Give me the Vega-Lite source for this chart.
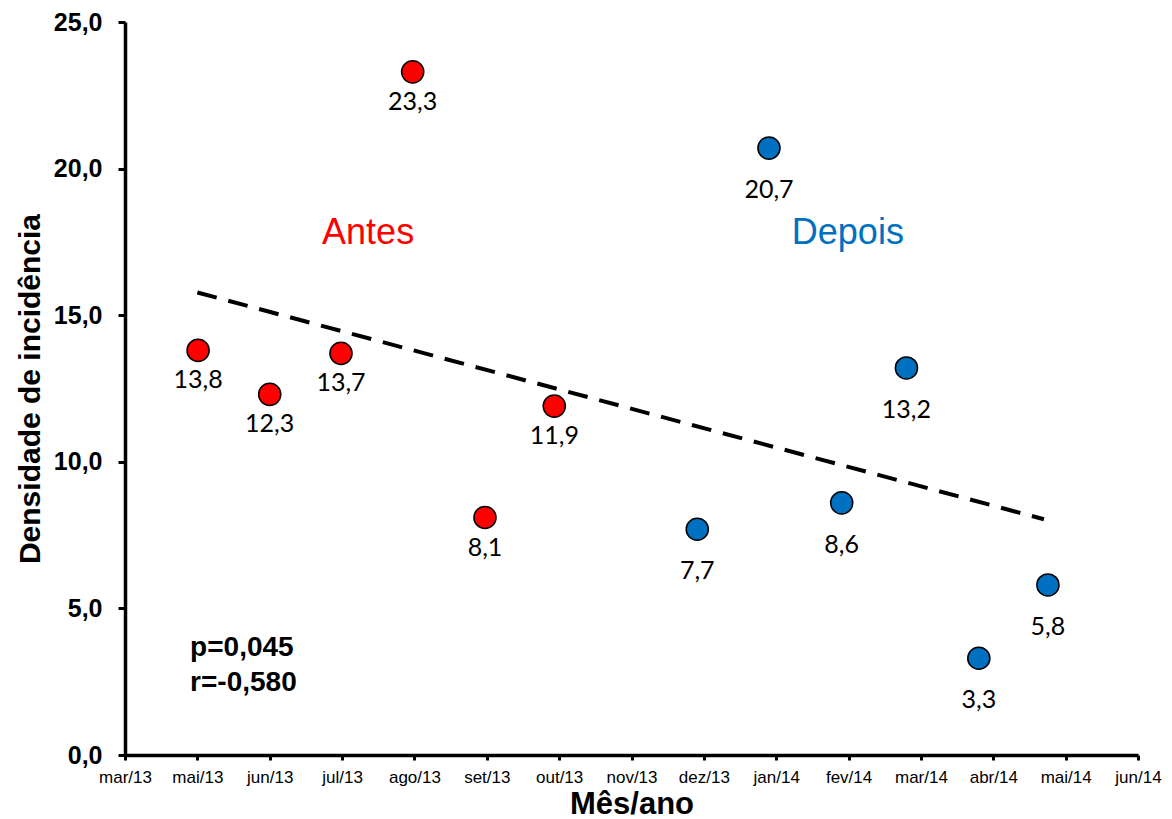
{
  "$schema": "https://vega.github.io/schema/vega-lite/v6.json",
  "autosize": {"type": "none"},
  "width": 1013,
  "height": 733,
  "padding": {"left": 125, "top": 22, "right": 34, "bottom": 64},
  "background": "white",
  "config": {
    "view": {"stroke": null},
    "locale": {
      "number": {"decimal": ",", "thousands": ".", "grouping": [3], "currency": ["R$", ""]}
    },
    "axis": {
      "grid": false,
      "domainColor": "black",
      "domainWidth": 3.5,
      "tickColor": "black",
      "tickWidth": 3,
      "labelColor": "black",
      "titleColor": "black",
      "labelFont": "Liberation Sans",
      "titleFont": "Liberation Sans",
      "titleFontWeight": "bold"
    }
  },
  "datasets": {
    "incidencia": [
      {"mes": "mai/13", "pos": 1.01, "valor": 13.8, "periodo": "Antes"},
      {"mes": "jun/13", "pos": 2.0, "valor": 12.3, "periodo": "Antes"},
      {"mes": "jul/13", "pos": 2.985, "valor": 13.7, "periodo": "Antes"},
      {"mes": "ago/13", "pos": 3.976, "valor": 23.3, "periodo": "Antes"},
      {"mes": "set/13", "pos": 4.975, "valor": 8.1, "periodo": "Antes"},
      {"mes": "out/13", "pos": 5.933, "valor": 11.9, "periodo": "Antes"},
      {"mes": "dez/13", "pos": 7.909, "valor": 7.7, "periodo": "Depois"},
      {"mes": "jan/14", "pos": 8.9, "valor": 20.7, "periodo": "Depois"},
      {"mes": "fev/14", "pos": 9.905, "valor": 8.6, "periodo": "Depois"},
      {"mes": "mar/14", "pos": 10.8, "valor": 13.2, "periodo": "Depois"},
      {"mes": "abr/14", "pos": 11.8, "valor": 3.3, "periodo": "Depois"},
      {"mes": "mai/14", "pos": 12.755, "valor": 5.8, "periodo": "Depois"}
    ],
    "periodos": [
      {"periodo": "Antes", "pos": 3.36, "valor": 17.8},
      {"periodo": "Depois", "pos": 9.99, "valor": 17.8}
    ],
    "estatisticas": [
      {"texto": "p=0,045", "pos": 0.9, "valor": 3.65},
      {"texto": "r=-0,580", "pos": 0.9, "valor": 2.45}
    ]
  },
  "encoding": {
    "x": {
      "field": "pos",
      "type": "quantitative",
      "scale": {"domain": [0, 14], "nice": false, "zero": false},
      "axis": {
        "title": "Mês/ano",
        "titleFontSize": 31,
        "titlePadding": 4,
        "values": [0, 1, 2, 3, 4, 5, 6, 7, 8, 9, 10, 11, 12, 13, 14],
        "labelExpr": "['mar/13','mai/13','jun/13','jul/13','ago/13','set/13','out/13','nov/13','dez/13','jan/14','fev/14','mar/14','abr/14','mai/14','jun/14'][datum.value]",
        "labelFontSize": 17,
        "labelPadding": 9,
        "labelFlush": false,
        "labelOverlap": false,
        "tickSize": 5
      }
    },
    "y": {
      "field": "valor",
      "type": "quantitative",
      "scale": {"domain": [0, 25], "nice": false},
      "axis": {
        "title": "Densidade de incidência",
        "titleFontSize": 30,
        "titlePadding": 8,
        "values": [0, 5, 10, 15, 20, 25],
        "format": ".1f",
        "labelFontSize": 25,
        "labelFontWeight": "bold",
        "labelPadding": 16,
        "tickSize": 7
      }
    }
  },
  "layer": [
    {
      "data": {"name": "incidencia"},
      "transform": [
        {"regression": "valor", "on": "pos", "extent": [1.0, 12.7]}
      ],
      "mark": {"type": "line", "color": "black", "strokeWidth": 4, "strokeDash": [20, 12]},
      "encoding": {}
    },
    {
      "data": {"name": "incidencia"},
      "mark": {"type": "circle", "size": 490, "opacity": 1, "stroke": "black", "strokeWidth": 1.5},
      "encoding": {
        "color": {
          "field": "periodo",
          "type": "nominal",
          "scale": {"domain": ["Antes", "Depois"], "range": ["#FF0000", "#0070C0"]},
          "legend": null
        }
      }
    },
    {
      "data": {"name": "incidencia"},
      "transform": [{"filter": "datum.periodo === 'Antes'"}],
      "mark": {"type": "text", "font": "Lato", "fontSize": 25, "color": "black", "dy": 30, "baseline": "middle"},
      "encoding": {"text": {"field": "valor", "type": "quantitative", "format": ".1f"}}
    },
    {
      "data": {"name": "incidencia"},
      "transform": [{"filter": "datum.periodo === 'Depois'"}],
      "mark": {"type": "text", "font": "Lato", "fontSize": 25, "color": "black", "dy": 42, "baseline": "middle"},
      "encoding": {"text": {"field": "valor", "type": "quantitative", "format": ".1f"}}
    },
    {
      "data": {"name": "periodos"},
      "mark": {"type": "text", "font": "Liberation Sans", "fontSize": 36, "baseline": "middle"},
      "encoding": {
        "text": {"field": "periodo"},
        "color": {"field": "periodo", "type": "nominal", "legend": null}
      }
    },
    {
      "data": {"name": "estatisticas"},
      "mark": {"type": "text", "font": "Liberation Sans", "fontSize": 28, "fontWeight": "bold", "align": "left", "baseline": "middle", "color": "black"},
      "encoding": {"text": {"field": "texto"}}
    }
  ]
}
